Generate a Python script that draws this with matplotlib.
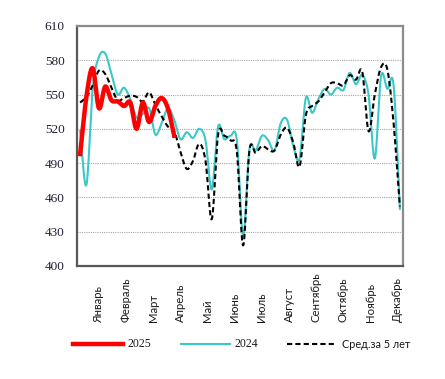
import numpy as np
import matplotlib
matplotlib.use("Agg")
import matplotlib.pyplot as plt
import matplotlib.transforms as mtransforms
from matplotlib.lines import Line2D

# ---------------- data ----------------
weeks = np.arange(1, 53)

y2025 = [498, 548, 573, 538, 557, 545, 544, 540, 543, 520, 543, 526, 540, 547, 538, 514]

y2024 = [518, 471, 555, 583, 586, 568, 550, 556, 546, 530, 533, 538, 515, 525, 538, 528,
         511, 517, 512, 520, 510, 467, 522, 511, 514, 510, 426, 502, 501, 514, 510, 501,
         525, 528, 505, 494, 547, 534, 546, 555, 550, 556, 554, 569, 559, 567, 550, 494,
         566, 555, 558, 450]

yavg = [543, 548, 558, 571, 568, 556, 545, 547, 549, 548, 544, 552, 541, 531, 522, 518,
        500, 485, 492, 507, 492, 441, 515, 514, 510, 500, 418, 501, 499, 505, 502, 501,
        515, 521, 508, 487, 532, 540, 544, 552, 560, 560, 558, 567, 563, 570, 518, 550,
        574, 572, 525, 452]

months = ["Январь", "Февраль", "Март", "Апрель", "Май", "Июнь", "Июль", "Август",
          "Сентябрь", "Октябрь", "Ноябрь", "Декабрь"]
yticks = [400, 430, 460, 490, 520, 550, 580, 610]
legend_labels = ["2025", "2024", "Сред.за 5 лет"]


def smooth(x, y, n=16):
    x = np.asarray(x, float)
    y = np.asarray(y, float)
    px = np.concatenate([[2 * x[0] - x[1]], x, [2 * x[-1] - x[-2]]])
    py = np.concatenate([[2 * y[0] - y[1]], y, [2 * y[-1] - y[-2]]])
    xs, ys = [], []
    t = np.linspace(0, 1, n, endpoint=False)
    for i in range(1, len(px) - 2):
        for P, out in ((px, xs), (py, ys)):
            p0, p1, p2, p3 = P[i - 1], P[i], P[i + 1], P[i + 2]
            v = 0.5 * ((2 * p1) + (-p0 + p2) * t +
                       (2 * p0 - 5 * p1 + 4 * p2 - p3) * t ** 2 +
                       (-p0 + 3 * p1 - 3 * p2 + p3) * t ** 3)
            out.extend(v)
    xs.append(x[-1])
    ys.append(y[-1])
    return np.array(xs), np.array(ys)


W, H = 445, 379
fig = plt.figure(figsize=(W / 100, H / 100), dpi=100)
ax = fig.add_axes([77 / W, (H - 266) / H, 326 / W, 240 / H])

cyan = "#3CC8C8"
dash = (2.5, 1.5)
x, y = smooth(weeks[:len(y2024)], y2024)
ax.plot(x, y, color=cyan, lw=1.5, zorder=3)
x, y = smooth(weeks[:len(yavg)], yavg)
ax.plot(x, y, color="black", lw=1.5, dashes=dash, zorder=4)
x, y = smooth(weeks[:len(y2025)], y2025)
ax.plot(x, y, color="#FF0000", lw=3.2, solid_joinstyle="round", zorder=5)

ax.set_xlim(0.5, 52.5)
ax.set_ylim(400, 610)
ax.set_yticks(yticks)
ax.set_yticklabels([str(v) for v in yticks], family="Liberation Serif",
                   fontsize=9.5, color="#202038")
ax.tick_params(axis="y", length=0, pad=9)
ax.set_xticks([])
for v in yticks[1:-1]:
    ax.axhline(v, color="#A6A6A6", lw=0.8, ls=(0, (1, 1)), zorder=1)

for side in ("top", "right"):
    ax.spines[side].set_color("#8C8C8C")
    ax.spines[side].set_linewidth(1.6)
for side in ("left", "bottom"):
    ax.spines[side].set_color("#595959")
    ax.spines[side].set_linewidth(1.6)

# month labels
trans = mtransforms.blended_transform_factory(ax.transData, fig.transFigure)
for i, m in enumerate(months):
    pos = 4.0 + i * 52 / 12
    ax.text(pos, (H - 322) / H, m, transform=trans, rotation=90, ha="center",
            va="bottom", fontsize=8.2, family="Lato", color="#1a1a1a", clip_on=False)

# legend
ly = (H - 344) / H
fig.add_artist(Line2D([73 / W, 123 / W], [ly, ly], color="#FF0000", lw=3.2))
fig.text(128 / W, ly, legend_labels[0], va="center", ha="left",
         family="Liberation Serif", fontsize=8.5, color="#1a1a1a")
fig.add_artist(Line2D([181 / W, 230 / W], [ly, ly], color=cyan, lw=1.5))
fig.text(235 / W, ly, legend_labels[1], va="center", ha="left",
         family="Liberation Serif", fontsize=8.5, color="#1a1a1a")
fig.add_artist(Line2D([287 / W, 336 / W], [ly, ly], color="black", lw=1.5,
                      dashes=dash))
fig.text(342 / W, ly, legend_labels[2], va="center", ha="left",
         family="Lato", fontsize=7.8, color="#1a1a1a")

fig.savefig("out.png", dpi=100)
